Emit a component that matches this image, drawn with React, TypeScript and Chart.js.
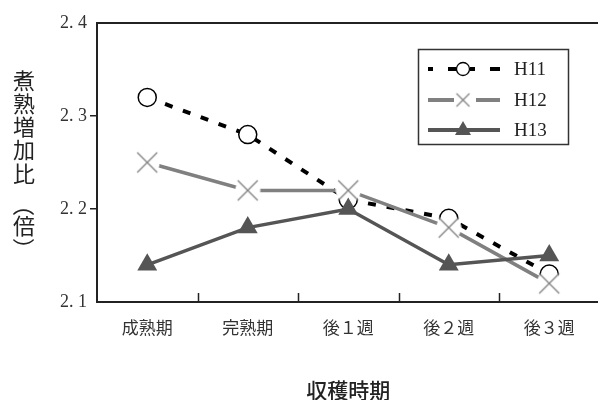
import React, { useEffect, useRef } from "react";
import { Chart, registerables } from "chart.js";
Chart.register(...registerables);

const categories = ["成熟期", "完熟期", "後１週", "後２週", "後３週"];
const seriesNames = ["H11", "H12", "H13"];
const h11 = [2.32, 2.28, 2.21, 2.19, 2.13];
const h12 = [2.25, 2.22, 2.22, 2.18, 2.12];
const h13 = [2.14, 2.18, 2.2, 2.14, 2.15];
const yTicks = [2.1, 2.2, 2.3, 2.4];
const xTitle = "収穫時期";
const yTitleChars = ["煮", "熟", "増", "加", "比"];
const yTitleUnit = ["（", "倍", "）"];

const C11 = "#000000";
const C12 = "#808080";
const C13 = "#555555";

function makeCross(half: number, pad: number, color: string, lw: number) {
  const c = document.createElement("canvas");
  const s = Math.ceil((half + pad) * 2);
  c.width = s;
  c.height = s;
  const ctx = c.getContext("2d")!;
  ctx.fillStyle = "#ffffff";
  ctx.beginPath();
  ctx.arc(s / 2, s / 2, half + pad - 0.5, 0, Math.PI * 2);
  ctx.fill();
  ctx.strokeStyle = color;
  ctx.lineWidth = lw;
  ctx.beginPath();
  ctx.moveTo(s / 2 - half, s / 2 - half);
  ctx.lineTo(s / 2 + half, s / 2 + half);
  ctx.moveTo(s / 2 + half, s / 2 - half);
  ctx.lineTo(s / 2 - half, s / 2 + half);
  ctx.stroke();
  return c;
}

export default function App() {
  const ref = useRef<HTMLCanvasElement | null>(null);
  useEffect(() => {
    const canvas = ref.current!;
    const crossBig = makeCross(10, 3, C12, 1.3);
    const crossSmall = makeCross(6.5, 2, C12, 1.2);

    const decor = {
      id: "decor",
      afterDraw(chart: any) {
        const ctx = chart.ctx;
        const a = chart.chartArea;
        const xs = chart.scales.x;
        ctx.save();
        // frame
        ctx.strokeStyle = "#222";
        ctx.lineWidth = 2;
        ctx.strokeRect(a.left, a.top, a.right - a.left, a.bottom - a.top);
        // inner x ticks at category boundaries
        ctx.lineWidth = 1.5;
        ctx.beginPath();
        for (let i = 0; i < categories.length - 1; i++) {
          const x = Math.round((xs.getPixelForValue(i) + xs.getPixelForValue(i + 1)) / 2) + 0.5;
          ctx.moveTo(x, a.bottom);
          ctx.lineTo(x, a.bottom - 9);
        }
        ctx.stroke();

        // titles
        ctx.fillStyle = "#222";
        ctx.textAlign = "center";
        ctx.textBaseline = "middle";
        ctx.font = "500 21px 'Noto Sans CJK JP'";
        ctx.fillText(xTitle, (a.left + a.right) / 2, 382);
        ctx.font = "22px 'Noto Sans CJK JP'";
        const ys = [73, 96, 119, 142, 166];
        yTitleChars.forEach((ch, i) => ctx.fillText(ch, 16, ys[i]));
        const uy = [197, 218, 241];
        yTitleUnit.forEach((ch, i) => {
          if (i === 1) {
            ctx.fillText(ch, 16, uy[i]);
          } else {
            ctx.save();
            ctx.translate(16, uy[i]);
            ctx.rotate(Math.PI / 2);
            ctx.fillText(ch, 0, 0);
            ctx.restore();
          }
        });

        // legend
        const bx = 410, by = 41, bw = 150, bh = 95;
        ctx.fillStyle = "#fff";
        ctx.fillRect(bx, by, bw, bh);
        ctx.strokeStyle = "#333";
        ctx.lineWidth = 1.5;
        ctx.strokeRect(bx + 0.5, by + 0.5, bw, bh);
        const rows = [61, 92, 122];
        const mx = 455;
        // H11
        ctx.fillStyle = C11;
        [[420, 425], [440, 449], [462, 467], [482, 492]].forEach(([s, e]) =>
          ctx.fillRect(s, rows[0] - 2, e - s, 4)
        );
        ctx.beginPath();
        ctx.arc(mx, rows[0], 6.5, 0, Math.PI * 2);
        ctx.fillStyle = "#fff";
        ctx.fill();
        ctx.strokeStyle = C11;
        ctx.lineWidth = 1.3;
        ctx.stroke();
        // H12
        ctx.fillStyle = C12;
        ctx.fillRect(420, rows[1] - 2, 26, 4);
        ctx.fillRect(468, rows[1] - 2, 24, 4);
        ctx.drawImage(crossSmall, mx - crossSmall.width / 2, rows[1] - crossSmall.height / 2);
        // H13
        ctx.fillStyle = C13;
        ctx.fillRect(420, rows[2] - 2, 72, 4);
        ctx.beginPath();
        ctx.moveTo(mx, rows[2] - 9);
        ctx.lineTo(mx + 8, rows[2] + 5);
        ctx.lineTo(mx - 8, rows[2] + 5);
        ctx.closePath();
        ctx.fill();
        // legend text
        ctx.fillStyle = "#222";
        ctx.textAlign = "left";
        ctx.font = "19px 'Liberation Serif'";
        seriesNames.forEach((n, i) => ctx.fillText(n, 506, rows[i] + 1));
        ctx.restore();
      },
    };

    const chart = new Chart(canvas, {
      type: "line",
      data: {
        labels: categories,
        datasets: [
          {
            label: seriesNames[0],
            data: h11,
            borderColor: C11,
            borderWidth: 4,
            borderDash: [8, 11],
            borderCapStyle: "butt",
            pointStyle: "circle",
            pointRadius: 9,
            pointBackgroundColor: "#fff",
            pointBorderColor: C11,
            pointBorderWidth: 1.5,
            tension: 0,
            order: 3,
          },
          {
            label: seriesNames[1],
            data: h12,
            borderColor: C12,
            borderWidth: 3.5,
            pointStyle: crossBig as any,
            pointRadius: 10,
            tension: 0,
            order: 2,
          },
          {
            label: seriesNames[2],
            data: h13,
            borderColor: C13,
            borderWidth: 3.5,
            pointStyle: "triangle",
            pointRadius: 11.5,
            pointBackgroundColor: C13,
            pointBorderColor: C13,
            pointBorderWidth: 0,
            tension: 0,
            order: 1,
          },
        ],
      },
      options: {
        responsive: false,
        animation: false,
        devicePixelRatio: 1,
        layout: { padding: { left: 0, right: 1, top: 15, bottom: 0 } },
        plugins: { legend: { display: false }, tooltip: { enabled: false } },
        scales: {
          x: {
            type: "category",
            offset: true,
            grid: {
              display: true,
              drawOnChartArea: false,
              drawTicks: true,
              tickLength: 15,
              color: "rgba(0,0,0,0)",
            },
            border: { display: false },
            ticks: {
              color: "#333",
              font: { family: "'Noto Sans CJK JP'", size: 17 },
              padding: 0,
              maxRotation: 0,
            },
            afterFit: (s: any) => {
              s.height = 98;
              s.paddingLeft = 0;
              s.paddingRight = 0;
            },
          },
          y: {
            min: 2.1,
            max: 2.4,
            afterBuildTicks: (s: any) => {
              s.ticks = yTicks.map((v) => ({ value: v }));
            },
            grid: {
              drawOnChartArea: false,
              drawTicks: true,
              tickLength: 7,
              lineWidth: 1.5,
              color: (c: any) =>
                c.index === 0 || c.index === yTicks.length - 1 ? "rgba(0,0,0,0)" : "#222",
            },
            border: { display: false },
            ticks: {
              color: "#333",
              font: { family: "'Liberation Serif'", size: 18 },
              padding: 3,
              callback: (v: any) => Number(v).toFixed(1).replace(".", ". "),
            },
            afterFit: (s: any) => {
              s.width = 89;
            },
          },
        },
      },
      plugins: [decor],
    });
    return () => chart.destroy();
  }, []);

  return (
    <div style={{ width: 598, height: 392, overflow: "hidden" }}>
      <canvas ref={ref} width={605} height={392} style={{ display: "block" }} />
    </div>
  );
}
